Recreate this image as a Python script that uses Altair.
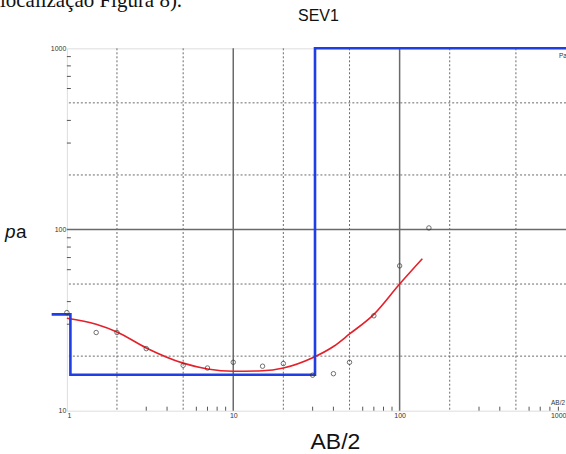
import altair as alt
import pandas as pd

# ---- data ----
obs_ab2 = [1, 1.5, 2, 3, 5, 7, 10, 15, 20, 30, 40, 50, 70, 100, 150]
obs_rho = [34.8, 27.0, 27.0, 22.0, 17.8, 17.2, 18.5, 17.6, 18.2, 15.7, 16.0, 18.5, 33.4, 63, 102]

fit_ab2 = [1, 1.5, 2, 3, 5, 7, 10, 15, 20, 30, 40, 50, 70, 100, 137]
fit_rho = [32.4, 30.0, 27.2, 22.2, 18.3, 17.0, 16.5, 16.6, 17.2, 19.6, 22.6, 26.5, 34.0, 50.0, 69.0]

model_ab2 = [0.81, 1.05, 1.05, 31.0, 31.0, 1000]
model_rho = [34.0, 34.0, 15.8, 15.8, 1000, 1000]

x_major = [10, 100]
y_major = [100]
x_dotted = [2, 5, 20, 50, 200, 500]
y_dotted = [20, 50, 200, 500]
x_minor = [3, 4, 6, 7, 8, 9, 30, 40, 60, 70, 80, 90, 300, 400, 600, 700, 800, 900]
y_minor = [30, 40, 60, 70, 80, 90, 300, 400, 600, 700, 800, 900]
x_labels = [1, 10, 100, 1000]
y_labels = [10, 100, 1000]

W, H = 500, 363

xs = alt.Scale(type="log", domain=[1, 1000], nice=False)
ys = alt.Scale(type="log", domain=[10, 1000], nice=False)

xa = alt.Axis(values=x_labels, format="d", title=None, grid=False, ticks=False, domain=False,
              labelFontSize=7, labelColor="#333", labelPadding=1, labelFont="Liberation Sans")
ya = alt.Axis(values=y_labels, format="d", title=None, grid=False, ticks=False, domain=False,
              labelFontSize=7, labelColor="#333", labelPadding=1, labelFont="Liberation Sans")

obs = pd.DataFrame({"ab2": obs_ab2, "rho": obs_rho})
fit = pd.DataFrame({"ab2": fit_ab2, "rho": fit_rho, "i": range(len(fit_ab2))})
model = pd.DataFrame({"ab2": model_ab2, "rho": model_rho, "i": range(len(model_ab2))})

grid_col = "#6a6a6a"


def X(f="v"):
    return alt.X(f"{f}:Q", scale=xs, axis=xa)


def Y(f="v"):
    return alt.Y(f"{f}:Q", scale=ys, axis=ya)


axes = alt.Chart(pd.DataFrame({"ab2": [1], "rho": [10]})).mark_point(opacity=0).encode(
    x=X("ab2"), y=Y("rho"))

xg_major = alt.Chart(pd.DataFrame({"v": x_major})).mark_rule(color=grid_col, strokeWidth=1.5).encode(x=X())
yg_major = alt.Chart(pd.DataFrame({"v": y_major})).mark_rule(color=grid_col, strokeWidth=1.5).encode(y=Y())
xg_dot = alt.Chart(pd.DataFrame({"v": x_dotted})).mark_rule(
    color=grid_col, strokeWidth=1, strokeDash=[2, 2]).encode(x=X())
yg_dot = alt.Chart(pd.DataFrame({"v": y_dotted})).mark_rule(
    color=grid_col, strokeWidth=1, strokeDash=[2, 2]).encode(y=Y())

x_ticks = alt.Chart(pd.DataFrame({"v": x_minor})).mark_rule(color="#555", strokeWidth=1).encode(
    x=X(), y=alt.value(H), y2=alt.value(H - 4))
y_ticks = alt.Chart(pd.DataFrame({"v": y_minor})).mark_rule(color="#555", strokeWidth=1).encode(
    y=Y(), x=alt.value(0), x2=alt.value(4))

red = alt.Chart(fit).mark_line(color="#e4202a", strokeWidth=1.6, interpolate="monotone").encode(
    x=X("ab2"), y=Y("rho"), order="i:Q")
blue = alt.Chart(model).mark_line(color="#1f3ee6", strokeWidth=2.6, interpolate="linear").encode(
    x=X("ab2"), y=Y("rho"), order="i:Q")
pts = alt.Chart(obs).mark_point(shape="circle", filled=False, color="#333", size=20, strokeWidth=1).encode(
    x=X("ab2"), y=Y("rho"))


def txt(s, x, y, size, font="Liberation Sans", style="normal", align="center", baseline="middle", color="#111"):
    return alt.Chart(pd.DataFrame({"t": [s]})).mark_text(
        fontSize=size, font=font, fontStyle=style, align=align, baseline=baseline, color=color
    ).encode(text="t:N", x=alt.value(x), y=alt.value(y))


texts = [
    txt("localização Figura 8).", -67, -41, 21, font="Liberation Serif", align="left", baseline="alphabetic"),
    txt("SEV1", 252, -32, 16),
    txt("p", -62, 184, 19, style="italic", align="left"),
    txt("a", -51, 184, 19, align="left"),
    txt("AB/2", 269, 394, 23),
    txt("Pa", 493, 8, 6.5, color="#333", align="left"),
    txt("AB/2", 492, 355, 6.5, color="#333"),
]

chart = alt.layer(
    axes, xg_dot, yg_dot, xg_major, yg_major, x_ticks, y_ticks, red, blue, pts, *texts
).properties(
    width=W, height=H,
    autosize=alt.AutoSizeParams(type="none"),
    padding={"left": 67, "top": 48, "right": 0, "bottom": 43},
).configure_view(stroke="#666", strokeWidth=1.5).configure(background="white")

chart.save("out.html", embed_options={"renderer": "svg", "actions": False})
